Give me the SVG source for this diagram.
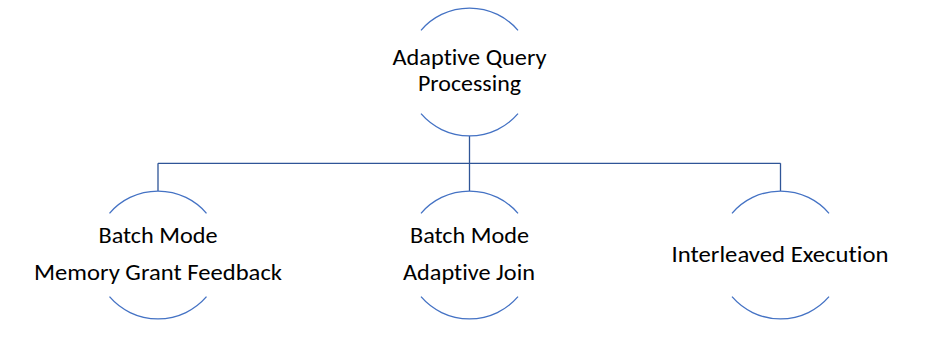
<svg xmlns="http://www.w3.org/2000/svg" width="949" height="351" viewBox="0 0 949 351">
<style>
.arc{fill:none;stroke:#4472C4;stroke-width:1.3}
.conn{fill:none;stroke:#2F5597;stroke-width:1.3}
.t{font-family:Carlito,Calibri,Lato,"Open Sans",sans-serif;font-size:22.5px;fill:#000;text-anchor:middle;font-variant-ligatures:none;font-feature-settings:"liga" 0,"dlig" 0}
</style>
<rect width="949" height="351" fill="#fff"/>
<g id="connectors">
<path class="conn" d="M469.5 136 V163.3 M158 163.3 H780.5 M158 163.3 V191 M469.5 163.3 V191 M780.5 163.3 V191"/>
</g>
<g id="node-root">
<path class="arc" d="M421 30.3 A64 64 0 0 1 518 30.3 M421 113.7 A64 64 0 0 0 518 113.7"/>
<text class="t" x="469.5" y="65" textLength="154" lengthAdjust="spacingAndGlyphs">Adaptive Query</text>
<text class="t" x="469.5" y="91" textLength="103" lengthAdjust="spacingAndGlyphs">Processing</text>
</g>
<g id="node-memory">
<path class="arc" d="M109.5 213.3 A64 64 0 0 1 206.5 213.3 M109.5 296.7 A64 64 0 0 0 206.5 296.7"/>
<text class="t" x="158" y="243" textLength="119" lengthAdjust="spacingAndGlyphs">Batch Mode</text>
<text class="t" x="158" y="279.5" textLength="248" lengthAdjust="spacingAndGlyphs">Memory Grant Feedback</text>
</g>
<g id="node-join">
<path class="arc" d="M421 213.3 A64 64 0 0 1 518 213.3 M421 296.7 A64 64 0 0 0 518 296.7"/>
<text class="t" x="469.5" y="243" textLength="119" lengthAdjust="spacingAndGlyphs">Batch Mode</text>
<text class="t" x="469" y="279.5" textLength="132" lengthAdjust="spacingAndGlyphs">Adaptive Join</text>
</g>
<g id="node-interleaved">
<path class="arc" d="M732 213.3 A64 64 0 0 1 829 213.3 M732 296.7 A64 64 0 0 0 829 296.7"/>
<text class="t" x="780" y="261.5" textLength="217" lengthAdjust="spacingAndGlyphs">Interleaved Execution</text>
</g>
</svg>
